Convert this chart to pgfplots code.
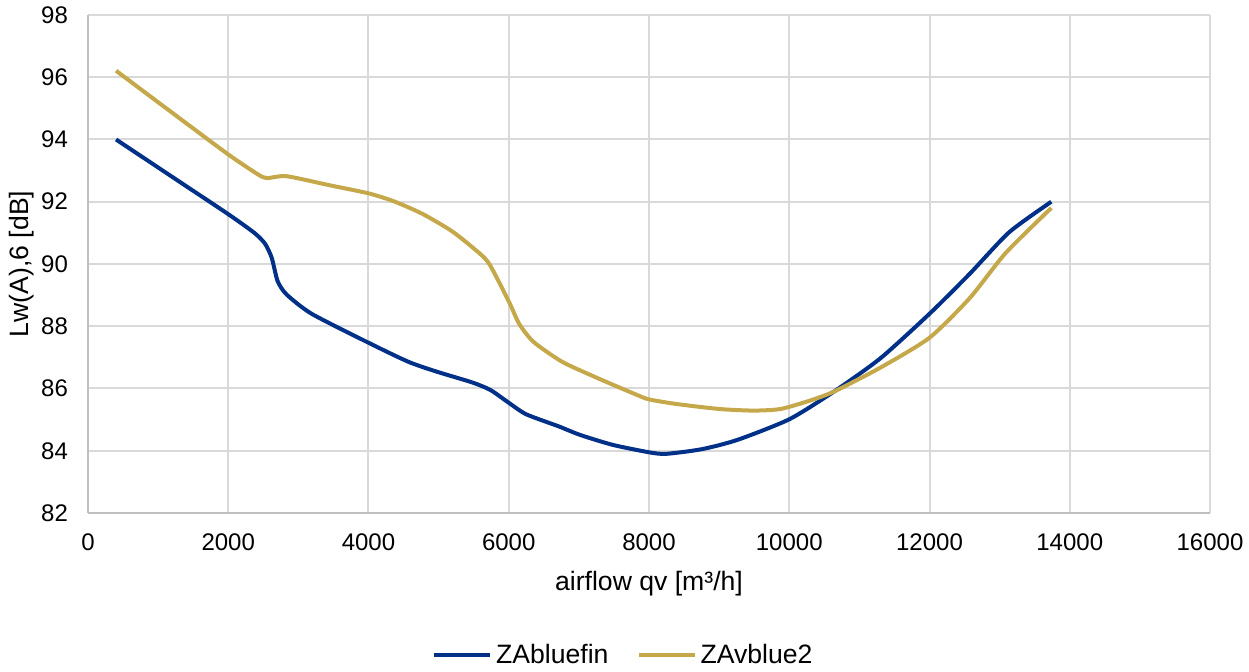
\documentclass[border=0pt]{standalone}
\usepackage{fontspec}
\setmainfont{Liberation Sans}
\usepackage{pgfplots}
\pgfplotsset{compat=1.18}
\definecolor{zblue}{HTML}{003087}
\definecolor{zgold}{HTML}{C4A84A}
\definecolor{gridc}{HTML}{D9D9D9}
\definecolor{axc}{HTML}{BFBFBF}
\begin{document}
\begin{tikzpicture}
\begin{axis}[name=ax, scale only axis, width=561pt, height=249pt,
  xmin=0, xmax=16000, ymin=82, ymax=98,
  xtick distance=2000, ytick distance=2,
  scaled x ticks=false,
  /pgf/number format/.cd, 1000 sep={}, assume math mode=true, /pgfplots/.cd,
  grid=major, major grid style={draw=gridc, line width=1pt},
  axis lines=left, axis line style={draw=axc, line width=1pt, -},
  major tick length=0pt,
  tick label style={font=\fontsize{12}{14}\selectfont, text=black},
  yticklabel style={xshift=-6.5pt},
  xticklabel style={yshift=-7pt},
  label style={font=\fontsize{13.3}{16}\selectfont, text=black},
  xlabel={airflow qv [m³/h]},
  xlabel style={at={(axis description cs:0.5,0)}, anchor=north, yshift=-25.5pt},
  ylabel={Lw(A),6 [dB]},
  ylabel style={at={([xshift=-33pt]axis description cs:0,0.5)}, anchor=center},
  legend style={at={(0.478,-0.285)}, anchor=center, draw=none, fill=none,
    legend columns=2, font=\fontsize{13.3}{16}\selectfont,
    /tikz/every even column/.append style={column sep=12pt}},
  legend image code/.code={\draw[#1, line width=2pt] (0pt,0pt) -- (28pt,0pt);},
]
\addplot[zblue, line width=2pt, smooth, tension=0.4] coordinates {
(400,94.0) (1200,92.8) (2000,91.6) (2372,91.0) (2525,90.65) (2620,90.2)
(2704,89.45) (2832,89.02) (3189,88.4) (4000,87.47) (4566,86.86) (4974,86.54)
(5485,86.19) (5740,85.95) (5995,85.55) (6250,85.17) (6716,84.78) (7015,84.51)
(7480,84.19) (8000,83.95) (8245,83.9) (8754,84.05) (9263,84.35) (10000,85.01)
(10637,85.9) (11300,86.97) (12000,88.4) (12576,89.69) (13136,91.02) (13737,92.0)
};
\addlegendentry{ZAbluefin}
\addplot[zgold, line width=2pt, smooth, tension=0.4] coordinates {
(400,96.21) (1200,94.86) (2000,93.52) (2423,92.88) (2551,92.76) (2832,92.82)
(3444,92.53) (4000,92.27) (4367,92.01) (4770,91.61) (5179,91.07) (5485,90.53)
(5714,90.03) (6000,88.8) (6148,88.08) (6352,87.5) (6760,86.86) (7270,86.33)
(7800,85.82) (8000,85.65) (8397,85.5) (9008,85.34) (9491,85.29) (9873,85.34)
(10280,85.6) (10637,85.9) (11300,86.67) (12000,87.63) (12576,88.91) (13085,90.35)
(13737,91.8)
};
\addlegendentry{ZAvblue2}
\end{axis}
\pgfresetboundingbox
\path ([xshift=-44pt,yshift=-79.5pt]ax.south west) rectangle ([xshift=19.5pt,yshift=7.5pt]ax.north east);
\end{tikzpicture}
\end{document}
